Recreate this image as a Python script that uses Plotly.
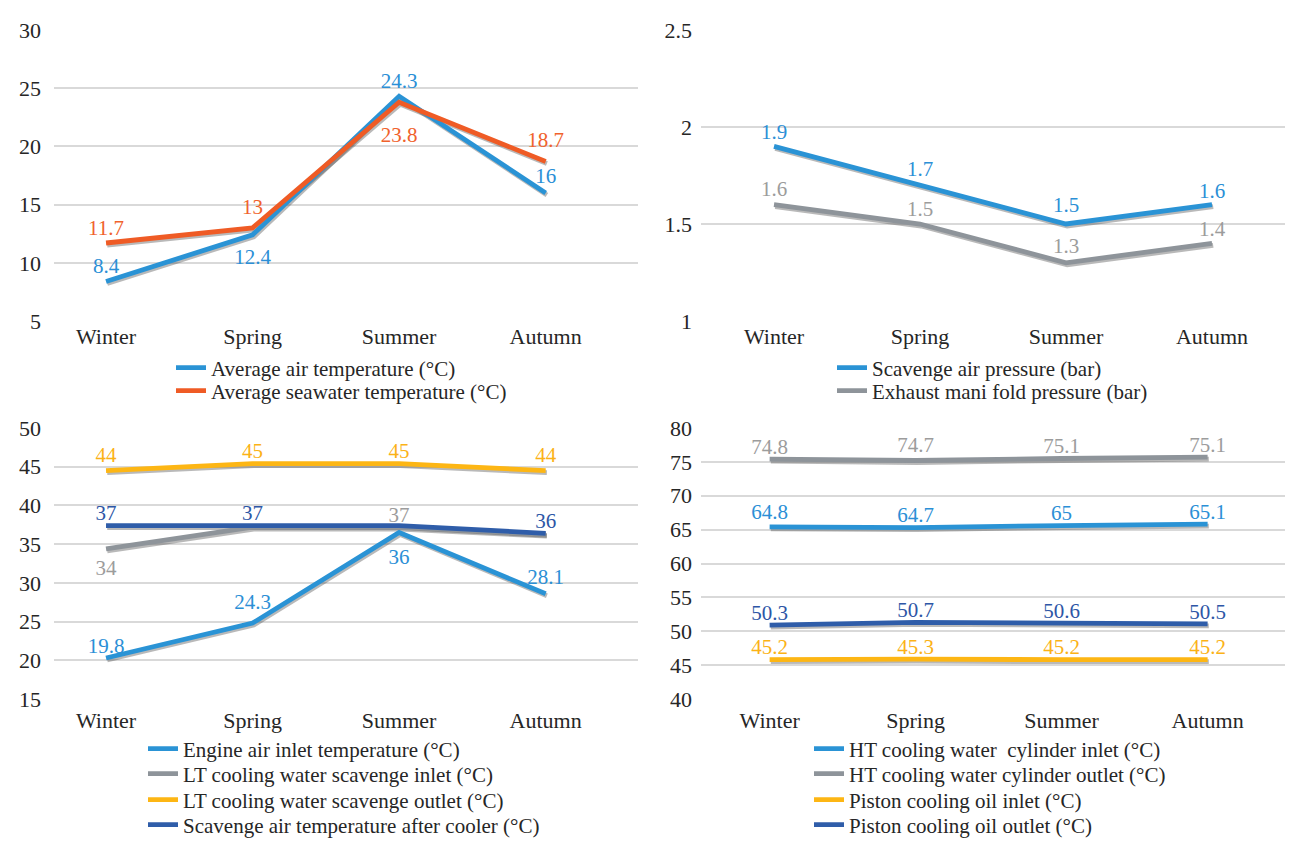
import plotly.graph_objects as go

W, H = 1309, 843
OX, OY = 8, 8   # page body margin in the browser
FONT = "Liberation Serif, Times New Roman, serif"

seasons = ["Winter", "Spring", "Summer", "Autumn"]

# Panel 1 (temperatures)
air_temp = [8.4, 12.4, 24.3, 16]
sea_temp = [11.7, 13, 23.8, 18.7]
air_temp_lbl = ["8.4", "12.4", "24.3", "16"]
sea_temp_lbl = ["11.7", "13", "23.8", "18.7"]

# Panel 2 (pressures)
scav_press = [1.9, 1.7, 1.5, 1.6]
exh_press = [1.6, 1.5, 1.3, 1.4]
scav_press_lbl = ["1.9", "1.7", "1.5", "1.6"]
exh_press_lbl = ["1.6", "1.5", "1.3", "1.4"]

# Panel 3 (air / LT cooling)
engine_air = [20.3, 24.8, 36.5, 28.6]
lt_in = [34.4, 37.2, 37.2, 36.3]
lt_out = [44.5, 45.4, 45.4, 44.5]
scav_after = [37.4, 37.4, 37.4, 36.4]
engine_air_lbl = ["19.8", "24.3", "36", "28.1"]
lt_in_lbl = ["34", "", "37", ""]
lt_out_lbl = ["44", "45", "45", "44"]
scav_after_lbl = ["37", "37", "", "36"]

# Panel 4 (HT cooling / piston oil)
ht_in = [65.4, 65.3, 65.6, 65.8]
ht_out = [75.4, 75.2, 75.5, 75.7]
pco_in = [45.8, 45.9, 45.8, 45.8]
pco_out = [50.9, 51.3, 51.2, 51.1]
ht_in_lbl = ["64.8", "64.7", "65", "65.1"]
ht_out_lbl = ["74.8", "74.7", "75.1", "75.1"]
pco_in_lbl = ["45.2", "45.3", "45.2", "45.2"]
pco_out_lbl = ["50.3", "50.7", "50.6", "50.5"]

LBLUE = "#2A93D5"
ORANGE = "#EF5B25"
GRAY = "#8E949A"
YELLOW = "#FDB614"
DBLUE = "#2F5DA9"
LBL = {LBLUE: "#2B8FD6", ORANGE: "#F0622C", GRAY: "#9C9C9C", YELLOW: "#FBB216", DBLUE: "#2D56A6"}
TXT = "#262626"

T, B = "top center", "bottom center"


def px_x(sx):
    return (sx - OX) / W


def px_y(sy):
    return 1 - (sy - OY) / H


# panel layout (screen px), axis ranges, dtick, tick label standoffs
panels = [
    dict(xpx=(54, 638), ypx=(30, 321), xr=(-0.355, 3.63), yr=(5, 30), dt=5, so=12, xso=0),
    dict(xpx=(701, 1285), ypx=(30, 321), xr=(-0.5, 3.5), yr=(1, 2.5), dt=0.5, so=8, xso=0),
    dict(xpx=(54, 638), ypx=(428, 699), xr=(-0.355, 3.63), yr=(15, 50), dt=5, so=12, xso=6),
    dict(xpx=(701, 1285), ypx=(428, 699), xr=(-0.47, 3.53), yr=(40, 80), dt=5, so=8, xso=6),
]

# label placement style: position + spacer size (controls label distance from line)
series = [
    # panel, name, values, labels, color, textpositions, spacer sizes, legend text x, legend y
    (0, "Average air temperature (°C)", air_temp, air_temp_lbl, LBLUE,
     [T, B, T, T], [3, 20, 4, 6], 213, 368),
    (0, "Average seawater temperature (°C)", sea_temp, sea_temp_lbl, ORANGE,
     [T, T, B, T], [3, 12, 37, 14], 213, 391),
    (1, "Scavenge air pressure (bar)", scav_press, scav_press_lbl, LBLUE,
     [T] * 4, [2, 4, 9, 1], 874, 368),
    (1, "Exhaust mani fold pressure (bar)", exh_press, exh_press_lbl, GRAY,
     [T] * 4, [3, 3, 6, 2], 874, 391),
    (2, "Engine air inlet temperature (°C)", engine_air, engine_air_lbl, LBLUE,
     [T, T, B, T], [0, 12, 23, 6], 185, 749),
    (2, "LT cooling water scavenge inlet (°C)", lt_in, lt_in_lbl, GRAY,
     [B, T, T, T], [15, 0, 0, 0], 185, 774),
    (2, "LT cooling water scavenge outlet (°C)", lt_out, lt_out_lbl, YELLOW,
     [T] * 4, [4, 0, 0, 4], 185, 800),
    (2, "Scavenge air temperature after cooler (°C)", scav_after, scav_after_lbl, DBLUE,
     [T] * 4, [0, 0, 0, 0], 185, 825),
    (3, "HT cooling water  cylinder inlet (°C)", ht_in, ht_in_lbl, LBLUE,
     [T] * 4, [2, 0, 0, 0], 851, 749),
    (3, "HT cooling water cylinder outlet (°C)", ht_out, ht_out_lbl, GRAY,
     [T] * 4, [0, 3, 0, 0], 851, 774),
    (3, "Piston cooling oil inlet (°C)", pco_in, pco_in_lbl, YELLOW,
     [T] * 4, [0, 0, 0, 0], 851, 800),
    (3, "Piston cooling oil outlet (°C)", pco_out, pco_out_lbl, DBLUE,
     [T] * 4, [0, 0, 0, 0], 851, 825),
]

fig = go.Figure()
layout = dict(
    template="none",
    width=W, height=H, margin=dict(l=0, r=0, t=0, b=0, pad=0, autoexpand=False),
    paper_bgcolor="white", plot_bgcolor="rgba(0,0,0,0)",
    font=dict(family=FONT, size=21, color=TXT),
    hovermode=False,
)

SH_DX, SH_DY = 1.2, 2.0  # shadow offset px (right, down)

for i, p in enumerate(panels):
    bx, by = i + 1, i + 1          # base (shadow) axes
    mx, my = i + 5, i + 5          # overlay (main) axes
    xdom = [px_x(p["xpx"][0]), px_x(p["xpx"][1])]
    ydom = [px_y(p["ypx"][1]), px_y(p["ypx"][0])]
    ux = (p["xr"][1] - p["xr"][0]) / (p["xpx"][1] - p["xpx"][0])
    uy = (p["yr"][1] - p["yr"][0]) / (p["ypx"][1] - p["ypx"][0])
    layout[f"xaxis{bx}"] = dict(domain=xdom, anchor=f"y{by}", type="category",
                                categoryorder="array", categoryarray=seasons,
                                range=[p["xr"][0] - SH_DX * ux, p["xr"][1] - SH_DX * ux],
                                visible=False, fixedrange=True, automargin=False)
    layout[f"yaxis{by}"] = dict(domain=ydom, anchor=f"x{bx}",
                                range=[p["yr"][0] + SH_DY * uy, p["yr"][1] + SH_DY * uy],
                                visible=False, fixedrange=True, automargin=False)
    layout[f"xaxis{mx}"] = dict(overlaying=f"x{bx}" if bx > 1 else "x", anchor=f"y{my}",
                                type="category", categoryorder="array", categoryarray=seasons,
                                range=list(p["xr"]), showgrid=False, zeroline=False,
                                showline=False, ticks="", ticklabelstandoff=p["xso"],
                                tickfont=dict(family=FONT, size=22, color=TXT),
                                fixedrange=True, automargin=False)
    layout[f"yaxis{my}"] = dict(overlaying=f"y{by}" if by > 1 else "y", anchor=f"x{mx}",
                                range=list(p["yr"]), dtick=p["dt"], tick0=0,
                                showgrid=True, gridcolor="#D9D9D9", gridwidth=1.5,
                                zeroline=False, showline=False, ticks="",
                                ticklabelstandoff=p["so"],
                                tickfont=dict(family=FONT, size=22, color=TXT),
                                fixedrange=True, automargin=False)

# shadows first (base axes)
for (pi, name, vals, lbls, col, tpos, sp, lx, ly) in series:
    fig.add_trace(go.Scatter(
        x=seasons, y=vals, mode="lines",
        line=dict(color="rgba(70,70,70,0.38)", width=4.8),
        xaxis=f"x{pi + 1}" if pi > 0 else "x", yaxis=f"y{pi + 1}" if pi > 0 else "y",
        showlegend=False, hoverinfo="skip"))

for k, (pi, name, vals, lbls, col, tpos, sp, lx, ly) in enumerate(series):
    leg = "legend" if k == 0 else f"legend{k + 1}"
    fig.add_trace(go.Scatter(
        x=seasons, y=vals, mode="lines+markers+text", name=name,
        text=lbls, textposition=tpos,
        textfont=dict(family=FONT, size=21, color=LBL[col]),
        line=dict(color=col, width=4.8),
        marker=dict(size=sp, color="rgba(0,0,0,0)", line=dict(width=0)),
        xaxis=f"x{pi + 5}", yaxis=f"y{pi + 5}",
        legend=leg, showlegend=True))
    layout[leg] = dict(x=px_x(lx - 42), y=px_y(ly), xanchor="left", yanchor="middle",
                       bgcolor="rgba(0,0,0,0)", borderwidth=0,
                       font=dict(family=FONT, size=21, color=TXT),
                       itemwidth=30)

fig.update_layout(**layout)
fig.write_html("out.html")
